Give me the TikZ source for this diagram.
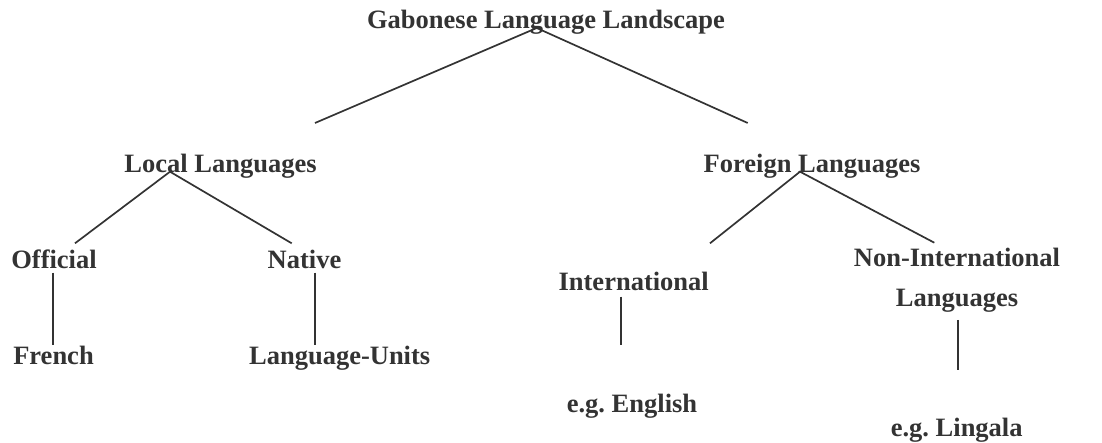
\documentclass[tikz,border=0pt]{standalone}
\usepackage{fontspec}
\setmainfont{Liberation Serif}
\definecolor{ink}{HTML}{333333}
\frenchspacing
\begin{document}
\begin{tikzpicture}[x=1pt,y=-1pt,
  lbl/.style={anchor=base,inner sep=0pt,text=ink,font=\fontsize{26.5}{30}\selectfont\bfseries},
  conn/.style={draw=ink,line width=1.7pt}]
\useasboundingbox (0,0) rectangle (1102,443);
% texts
\node[lbl] (title) at (546,28.5) {Gabonese Language Landscape};
\node[lbl] (local) at (220.5,172.5) {Local Languages};
\node[lbl] (foreign) at (812,172.5) {Foreign Languages};
\node[lbl] (official) at (54,269) {Official};
\node[lbl] (native) at (304.5,269) {Native};
\node[lbl] (french) at (53.5,364) {French};
\node[lbl] (units) at (339.7,364) {Language-Units};
\node[lbl] (intl) at (633.7,290.5) {International};
\node[lbl] (english) at (632,412) {e.g.\ English};
\node[lbl] (nonintl) at (957,267) {Non-International};
\node[lbl] (nonintl2) at (957,307) {Languages};
\node[lbl] (lingala) at (956.7,436.5) {e.g.\ Lingala};
% connector ends
\coordinate (t-top) at (536.7,28);
\coordinate (t-l) at (315,123);
\coordinate (t-r) at (747.7,123);
\coordinate (l-top) at (170,171.7);
\coordinate (l-l) at (75,243.3);
\coordinate (l-r) at (291.7,243.3);
\coordinate (f-top) at (800,171.7);
\coordinate (f-l) at (710,243.3);
\coordinate (f-r) at (934.3,242.7);
\coordinate (o-a) at (53.3,272.7);
\coordinate (o-b) at (53.3,345);
\coordinate (n-a) at (315,272.7);
\coordinate (n-b) at (315,345);
\coordinate (i-a) at (621,296.7);
\coordinate (i-b) at (621,345);
\coordinate (ni-a) at (958.3,320);
\coordinate (ni-b) at (958.3,370);
% connectors
\draw[conn] (t-l) -- (t-top) -- (t-r);
\draw[conn] (l-l) -- (l-top) -- (l-r);
\draw[conn] (f-l) -- (f-top) -- (f-r);
\draw[conn] (o-a) -- (o-b);
\draw[conn] (n-a) -- (n-b);
\draw[conn] (i-a) -- (i-b);
\draw[conn] (ni-a) -- (ni-b);
\end{tikzpicture}
\end{document}
